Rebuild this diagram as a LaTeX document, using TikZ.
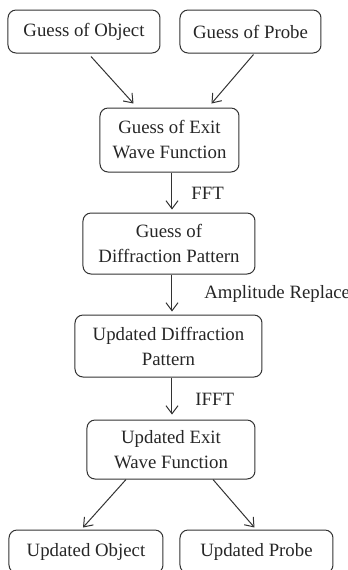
\documentclass[tikz,border=0pt]{standalone}
\usepackage{fontspec}
\setmainfont{Liberation Serif}
\usetikzlibrary{arrows.meta}
\begin{document}
\begin{tikzpicture}[x=0.5pt,y=-0.5pt,
        box/.style={draw=black!80,line width=0.5pt,rounded corners=4pt,align=center,
            inner sep=0pt,font=\fontsize{9.4}{12.5}\selectfont,text=black!85},
        flow/.style={draw=black!80,line width=0.5pt,-{Straight Barb[length=4pt,width=6pt]}},
        lbl/.style={anchor=west,inner sep=0pt,font=\fontsize{9.4}{12.5}\selectfont,text=black!85}]
        \useasboundingbox (0,0) rectangle (348,570);
        \clip (0,0) rectangle (348,570);

        \coordinate (spine) at (172,0);

        \node[box,minimum width=76pt,minimum height=21.5pt] (obj) at (84,31.5) {Guess of Object};
        \node[box,minimum width=70.5pt,minimum height=21.5pt] (probe) at (250.5,31.5) {Guess of Probe};
        \node[box,minimum width=69.5pt,minimum height=32pt] (exit) at (169.5,140) {Guess of Exit\\Wave Function};
        \node[box,minimum width=86pt,minimum height=30.5pt] (diff) at (169,243.5) {Guess of\\Diffraction Pattern};
        \node[box,minimum width=93.5pt,minimum height=31pt] (upd) at (168.5,346) {Updated Diffraction\\Pattern};
        \node[box,minimum width=84pt,minimum height=29.5pt] (uexit) at (171,449.5) {Updated Exit\\Wave Function};
        \node[box,minimum width=77pt,minimum height=21.5pt] (uobj) at (86,551.5) {Updated Object};
        \node[box,minimum width=76.5pt,minimum height=21.5pt] (uprobe) at (256.5,551.5) {Updated Probe};

        \draw[flow] ([xshift=3.5pt,yshift=-1.5pt]obj.south) -- ([xshift=-18pt,yshift=2pt]exit.north);
        \draw[flow] ([xshift=1.5pt,yshift=-0.5pt]probe.south) -- ([xshift=21pt,yshift=2pt]exit.north);

        \draw[flow] (exit.south -| spine) -- ([yshift=1.5pt]diff.north -| spine);
        \node[lbl] (fft) at (191,193) {FFT};

        \draw[flow] (diff.south -| spine) -- ([yshift=1.5pt]upd.north -| spine);
        \node[lbl] (amp) at (204,294) {Amplitude Replace};

        \draw[flow] (upd.south -| spine) -- ([yshift=2.5pt]uexit.north -| spine);
        \node[lbl] (ifft) at (195,399) {IFFT};

        \draw[flow] ([xshift=-22.5pt]uexit.south) -- ([xshift=-1.5pt,yshift=1pt]uobj.north);
        \draw[flow] ([xshift=21pt]uexit.south) -- ([xshift=-1pt,yshift=1pt]uprobe.north);
\end{tikzpicture}
\end{document}
